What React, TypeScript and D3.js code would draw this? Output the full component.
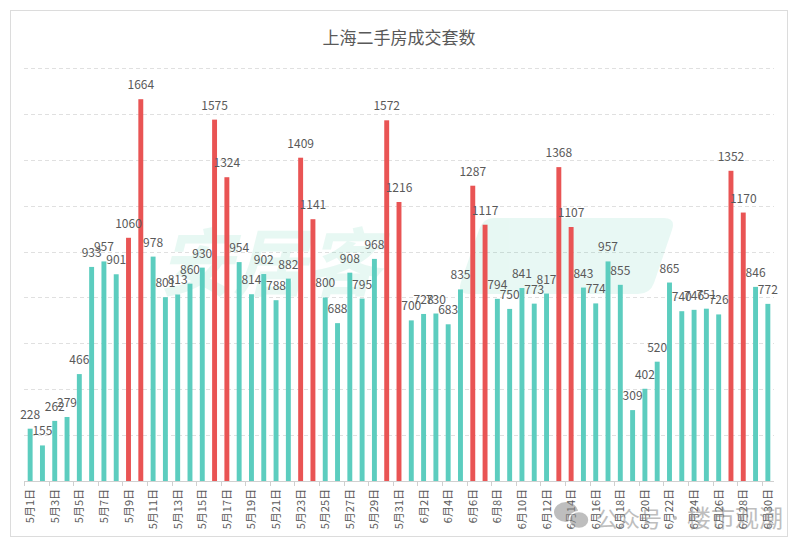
import { FC, useEffect, useRef } from 'react';
import * as d3 from 'd3';

// daily counts, 5/1 - 6/30
const mayDays = [
  '5月1日', '5月2日', '5月3日', '5月4日', '5月5日', '5月6日', '5月7日', '5月8日', '5月9日', '5月10日',
  '5月11日', '5月12日', '5月13日', '5月14日', '5月15日', '5月16日', '5月17日', '5月18日', '5月19日', '5月20日',
  '5月21日', '5月22日', '5月23日', '5月24日', '5月25日', '5月26日', '5月27日', '5月28日', '5月29日', '5月30日',
  '5月31日',
];
const juneDays = [
  '6月1日', '6月2日', '6月3日', '6月4日', '6月5日', '6月6日', '6月7日', '6月8日', '6月9日', '6月10日',
  '6月11日', '6月12日', '6月13日', '6月14日', '6月15日', '6月16日', '6月17日', '6月18日', '6月19日', '6月20日',
  '6月21日', '6月22日', '6月23日', '6月24日', '6月25日', '6月26日', '6月27日', '6月28日', '6月29日', '6月30日',
];
const mayValues = [
  228, 155, 262, 279, 466, 933, 957, 901, 1060, 1664,
  978, 801, 813, 860, 930, 1575, 1324, 954, 814, 902,
  788, 882, 1409, 1141, 800, 688, 908, 795, 968, 1572,
  1216,
];
const juneValues = [
  700, 728, 730, 683, 835, 1287, 1117, 794, 750, 841,
  773, 817, 1368, 1107, 843, 774, 957, 855, 309, 402,
  520, 865, 740, 746, 751, 726, 1352, 1170, 846, 772,
];
// days drawn in red
const highlightDays = [
  '5月9日', '5月10日', '5月16日', '5月17日', '5月23日', '5月24日', '5月30日', '5月31日',
  '6月6日', '6月7日', '6月13日', '6月14日', '6月27日', '6月28日',
];

const categories = [...mayDays, ...juneDays];
const values = [...mayValues, ...juneValues];

const TEAL = '#5ccdbf';
const RED = '#e95454';
const TEXT = '#595959';
const FONT = '"Noto Sans CJK SC", "Noto Sans", sans-serif';

const App: FC = () => {
  const svgRef = useRef<SVGSVGElement>(null);

  useEffect(() => {
    if (!svgRef.current) return;
    const W = 801;
    const H = 551;
    const margin = { top: 68, right: 27, bottom: 70, left: 24 };
    const width = W - margin.left - margin.right;
    const height = H - margin.top - margin.bottom;

    d3.select(svgRef.current).selectAll('*').remove();
    const root = d3.select(svgRef.current);

    // outer frame
    root
      .append('rect')
      .attr('x', 10.5)
      .attr('y', 10.5)
      .attr('width', 777)
      .attr('height', 526)
      .attr('fill', '#fff')
      .attr('stroke', '#dcdcdc');

    root
      .append('text')
      .attr('x', 399)
      .attr('y', 44)
      .attr('text-anchor', 'middle')
      .attr('font-family', FONT)
      .attr('font-size', 17)
      .attr('fill', TEXT)
      .text('上海二手房成交套数');

    const svg = root.append('g').attr('transform', `translate(${margin.left},${margin.top})`);

    const x = d3.scaleBand<string>().domain(categories).range([0, width]).paddingInner(0.6).paddingOuter(0.3);
    const y = d3.scaleLinear().domain([0, 1800]).range([height, 0]);

    // dashed grid
    svg
      .selectAll('.grid')
      .data(y.ticks(9).filter(t => t > 0))
      .enter()
      .append('line')
      .attr('x1', 0)
      .attr('x2', width)
      .attr('y1', d => Math.round(y(d)) + 0.5)
      .attr('y2', d => Math.round(y(d)) + 0.5)
      .attr('stroke', '#e0e0e0')
      .attr('stroke-dasharray', '4,3');

    // faint watermark logo
    const wm = svg.append('g').attr('opacity', 0.1);
    wm.append('text')
      .attr('x', 135)
      .attr('y', 222)
      .attr('font-family', FONT)
      .attr('font-size', 74)
      .attr('font-weight', 'bold')
      .attr('font-style', 'italic')
      .attr('fill', '#1fbf8f')
      .text('安居客');
    wm.append('path')
      .attr('d', 'M 470 150 L 640 150 Q 652 150 648 162 L 630 215 Q 626 226 614 226 L 445 226 Q 433 226 437 214 L 455 162 Q 459 150 470 150 Z')
      .attr('fill', '#1fbf8f');

    const ratio = x.step();
    // bars
    svg
      .selectAll('.bar')
      .data(values)
      .enter()
      .append('rect')
      .attr('class', 'bar')
      .attr('x', (_, i) => x(categories[i]) as number)
      .attr('y', d => y(d))
      .attr('width', x.bandwidth())
      .attr('height', d => height - y(d))
      .attr('fill', (_, i) => (highlightDays.includes(categories[i]) ? RED : TEAL));

    // value labels
    svg
      .selectAll('.val')
      .data(values)
      .enter()
      .append('text')
      .attr('x', (_, i) => (x(categories[i]) as number) + x.bandwidth() / 2)
      .attr('y', d => y(d) - 10)
      .attr('text-anchor', 'middle')
      .attr('font-family', FONT)
      .attr('font-size', 12)
      .attr('fill', TEXT)
      .text(d => d);

    // x axis
    const axis = svg.append('g').attr('transform', `translate(0,${height})`);
    axis.append('line').attr('x1', 0).attr('x2', width).attr('y1', 0.5).attr('y2', 0.5).attr('stroke', '#d0d0d0');
    const shown = categories.filter((_, i) => i % 2 === 0);
    axis
      .selectAll('.tick')
      .data(shown)
      .enter()
      .append('line')
      .attr('x1', d => Math.round((x(d) as number) - (x.step() - x.bandwidth()) / 2) + 0.5)
      .attr('x2', d => Math.round((x(d) as number) - (x.step() - x.bandwidth()) / 2) + 0.5)
      .attr('y1', 0)
      .attr('y2', 5)
      .attr('stroke', '#d0d0d0');
    axis
      .selectAll('.lbl')
      .data(shown)
      .enter()
      .append('text')
      .attr('transform', d => `translate(${(x(d) as number) + x.bandwidth() / 2 + 4},8) rotate(-90)`)
      .attr('text-anchor', 'end')
      .attr('font-family', FONT)
      .attr('font-size', 11)
      .attr('fill', TEXT)
      .text(d => d);

    void ratio;

    // bottom-right account watermark
    const mark = root.append('g').attr('opacity', 0.55).attr('fill', '#8a8a8a');
    mark.append('ellipse').attr('cx', 566).attr('cy', 512).attr('rx', 12).attr('ry', 10);
    mark.append('ellipse').attr('cx', 579).attr('cy', 520).attr('rx', 10).attr('ry', 8.5).attr('stroke', '#fff').attr('stroke-width', 1.5);
    mark
      .append('text')
      .attr('x', 596)
      .attr('y', 527)
      .attr('font-family', FONT)
      .attr('font-size', 22)
      .text('公众号');
    mark.append('circle').attr('cx', 675).attr('cy', 518).attr('r', 2);
    mark
      .append('text')
      .attr('x', 687)
      .attr('y', 527)
      .attr('font-family', FONT)
      .attr('font-size', 24)
      .text('楼市观潮');
  }, []);

  return (
    <div style={{ position: 'absolute', left: 0, top: 0 }}>
      <svg ref={svgRef} width={801} height={551} style={{ display: 'block' }} />
    </div>
  );
};

export default App;
